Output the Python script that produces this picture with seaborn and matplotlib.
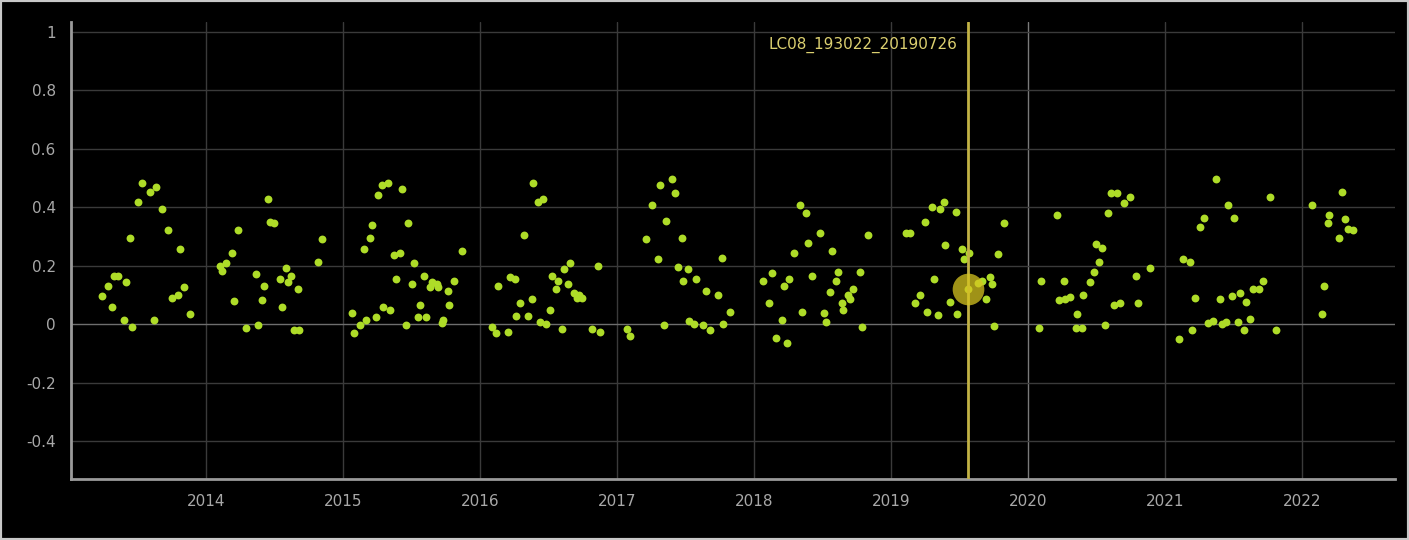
import matplotlib
matplotlib.use("Agg")
import matplotlib.pyplot as plt
import seaborn as sns
import pandas as pd
from matplotlib.patches import Rectangle

# Acquisition dates (decimal year) and index values per season
years_2013 = [2013.241, 2013.285, 2013.312, 2013.331, 2013.355, 2013.399, 2013.416, 2013.443,
              2013.458, 2013.504, 2013.533, 2013.591, 2013.623, 2013.635, 2013.677, 2013.720,
              2013.752, 2013.793, 2013.808, 2013.839, 2013.883]
vals_2013 = [0.097, 0.131, 0.058, 0.165, 0.165, 0.015, 0.145, 0.296,
             -0.011, 0.419, 0.482, 0.453, 0.015, 0.468, 0.393, 0.323,
             0.091, 0.098, 0.256, 0.126, 0.035]

years_2014 = [2014.102, 2014.115, 2014.146, 2014.190, 2014.202, 2014.234, 2014.292, 2014.367,
              2014.380, 2014.409, 2014.423, 2014.450, 2014.467, 2014.499, 2014.540, 2014.555,
              2014.584, 2014.601, 2014.623, 2014.640, 2014.669, 2014.681, 2014.815, 2014.845]
vals_2014 = [0.200, 0.183, 0.208, 0.242, 0.078, 0.323, -0.013, 0.172,
             -0.004, 0.083, 0.131, 0.427, 0.350, 0.345, 0.153, 0.057,
             0.193, 0.144, 0.165, -0.021, 0.119, -0.021, 0.213, 0.290]

years_2015 = [2015.068, 2015.080, 2015.124, 2015.153, 2015.168, 2015.197, 2015.209, 2015.241,
              2015.253, 2015.282, 2015.294, 2015.331, 2015.343, 2015.370, 2015.385, 2015.416,
              2015.428, 2015.458, 2015.472, 2015.501, 2015.516, 2015.545, 2015.562, 2015.589,
              2015.606, 2015.635, 2015.652, 2015.684, 2015.696, 2015.720, 2015.732, 2015.764,
              2015.776, 2015.808, 2015.866]
vals_2015 = [0.037, -0.032, -0.004, 0.256, 0.014, 0.296, 0.338, 0.024,
             0.441, 0.476, 0.057, 0.482, 0.050, 0.235, 0.153, 0.242,
             0.461, -0.004, 0.345, 0.139, 0.208, 0.023, 0.065, 0.165,
             0.023, 0.126, 0.145, 0.139, 0.126, 0.004, 0.014, 0.112,
             0.064, 0.146, 0.249]

years_2016 = [2016.085, 2016.117, 2016.129, 2016.207, 2016.219, 2016.255, 2016.263, 2016.292,
              2016.325, 2016.350, 2016.377, 2016.389, 2016.426, 2016.438, 2016.462, 2016.482,
              2016.511, 2016.526, 2016.553, 2016.572, 2016.596, 2016.613, 2016.642, 2016.657,
              2016.686, 2016.706, 2016.725, 2016.747, 2016.815, 2016.859, 2016.876]
vals_2016 = [-0.009, -0.032, 0.131, -0.026, 0.160, 0.153, 0.028, 0.071,
             0.304, 0.028, 0.085, 0.482, 0.419, 0.008, 0.427, 0.001,
             0.050, 0.165, 0.120, 0.147, -0.018, 0.187, 0.138, 0.208,
             0.105, 0.091, 0.100, 0.091, -0.018, 0.200, -0.027]

years_2017 = [2017.071, 2017.095, 2017.212, 2017.255, 2017.297, 2017.314, 2017.341, 2017.355,
              2017.399, 2017.426, 2017.443, 2017.474, 2017.484, 2017.520, 2017.528, 2017.562,
              2017.577, 2017.630, 2017.647, 2017.679, 2017.737, 2017.764, 2017.776, 2017.825]
vals_2017 = [-0.015, -0.040, 0.290, 0.407, 0.222, 0.476, -0.004, 0.352,
             0.496, 0.448, 0.194, 0.296, 0.146, 0.187, 0.011, 0.000,
             0.153, -0.003, 0.112, -0.021, 0.098, 0.228, 0.002, 0.043]

years_2018 = [2018.068, 2018.109, 2018.129, 2018.158, 2018.202, 2018.217, 2018.241, 2018.258,
              2018.290, 2018.336, 2018.348, 2018.377, 2018.392, 2018.421, 2018.480, 2018.511,
              2018.523, 2018.552, 2018.567, 2018.596, 2018.611, 2018.640, 2018.652, 2018.688,
              2018.701, 2018.725, 2018.772, 2018.786, 2018.830]
vals_2018 = [0.147, 0.071, 0.174, -0.046, 0.015, 0.131, -0.063, 0.153,
             0.242, 0.407, 0.042, 0.379, 0.276, 0.164, 0.311, 0.037,
             0.007, 0.111, 0.249, 0.146, 0.180, 0.071, 0.050, 0.099,
             0.085, 0.119, 0.180, -0.011, 0.304]

years_2019 = [2019.109, 2019.142, 2019.177, 2019.209, 2019.250, 2019.265, 2019.297, 2019.312,
              2019.341, 2019.358, 2019.387, 2019.394, 2019.428, 2019.472, 2019.484, 2019.516,
              2019.533, 2019.564, 2019.569, 2019.637, 2019.664, 2019.693, 2019.723, 2019.737,
              2019.752, 2019.781, 2019.825]
vals_2019 = [0.311, 0.311, 0.071, 0.098, 0.350, 0.042, 0.400, 0.153,
             0.030, 0.393, 0.419, 0.270, 0.076, 0.385, 0.035, 0.256,
             0.222, 0.120, 0.242, 0.142, 0.146, 0.085, 0.161, 0.139,
             -0.006, 0.241, 0.345]

years_2020 = [2020.082, 2020.099, 2020.215, 2020.230, 2020.263, 2020.270, 2020.307, 2020.350,
              2020.361, 2020.392, 2020.404, 2020.453, 2020.482, 2020.496, 2020.521, 2020.538,
              2020.564, 2020.582, 2020.604, 2020.628, 2020.647, 2020.672, 2020.703, 2020.745,
              2020.786, 2020.801, 2020.891]
vals_2020 = [-0.012, 0.146, 0.372, 0.083, 0.146, 0.087, 0.092, -0.013,
             0.035, -0.013, 0.098, 0.145, 0.180, 0.274, 0.213, 0.259,
             -0.004, 0.379, 0.448, 0.065, 0.448, 0.071, 0.413, 0.434,
             0.165, 0.071, 0.193]

years_2021 = [2021.106, 2021.134, 2021.182, 2021.195, 2021.223, 2021.259, 2021.285, 2021.316,
              2021.353, 2021.370, 2021.401, 2021.414, 2021.445, 2021.458, 2021.487, 2021.502,
              2021.531, 2021.547, 2021.577, 2021.589, 2021.620, 2021.645, 2021.686, 2021.720,
              2021.766, 2021.810]
vals_2021 = [-0.052, 0.222, 0.213, -0.021, 0.091, 0.331, 0.364, 0.004,
             0.010, 0.496, 0.085, 0.001, 0.008, 0.408, 0.096, 0.364,
             0.008, 0.105, -0.021, 0.076, 0.016, 0.119, 0.119, 0.146,
             0.434, -0.021]

years_2022 = [2022.071, 2022.144, 2022.159, 2022.188, 2022.200, 2022.272, 2022.290, 2022.316,
              2022.338, 2022.375]
vals_2022 = [0.407, 0.035, 0.131, 0.345, 0.373, 0.296, 0.453, 0.359,
             0.324, 0.322]

selected_scene = "LC08_193022_20190726"
selected_year = 2019.564
selected_value = 0.120

x_ticks = [2014, 2015, 2016, 2017, 2018, 2019, 2020, 2021, 2022]
y_ticks = [-0.4, -0.2, 0, 0.2, 0.4, 0.6, 0.8, 1]
y_tick_labels = ["-0.4", "-0.2", "0", "0.2", "0.4", "0.6", "0.8", "1"]

all_years = (years_2013 + years_2014 + years_2015 + years_2016 + years_2017 +
             years_2018 + years_2019 + years_2020 + years_2021 + years_2022)
all_vals = (vals_2013 + vals_2014 + vals_2015 + vals_2016 + vals_2017 +
            vals_2018 + vals_2019 + vals_2020 + vals_2021 + vals_2022)
df = pd.DataFrame({"year": all_years, "value": all_vals})

sns.set_style("dark")
plt.rcParams["font.family"] = ["DejaVu Sans"]

fig = plt.figure(figsize=(14.09, 5.40), dpi=100, facecolor="black")
ax = fig.add_axes([71 / 1409, 1 - 479 / 540, (1395 - 71) / 1409, (479 - 22) / 540])
ax.set_facecolor("black")

grid_col = "#3a3a3a"
for t in x_ticks:
    ax.axvline(t, color=("#7a7a7a" if t == 2020 else grid_col), lw=1, zorder=0)
for t in y_ticks:
    ax.axhline(t, color=("#6e6e6e" if t == 0 else grid_col), lw=1, zorder=0)

sns.scatterplot(data=df, x="year", y="value", ax=ax, color="#aedc28",
                s=32, linewidth=0, zorder=3, legend=False)

# highlighted acquisition
ax.axvline(selected_year, color="#c2b244", lw=2, zorder=4)
ax.scatter([selected_year], [selected_value], s=520, color="#d6c420",
           alpha=0.75, linewidth=0, zorder=5)
ax.text(selected_year - 0.08, 0.955, selected_scene, color="#dcd070",
        fontsize=11, ha="right", va="center", zorder=6)

ax.set_xlim(2013.015, 2022.68)
ax.set_ylim(-0.53, 1.034)
ax.set_xticks(x_ticks)
ax.set_xticklabels([str(t) for t in x_ticks])
ax.set_yticks(y_ticks)
ax.set_yticklabels(y_tick_labels)
ax.tick_params(axis="both", length=0, colors="#a8a8a8", labelsize=11)
ax.tick_params(axis="x", pad=11)
ax.tick_params(axis="y", pad=11)
ax.grid(False)
ax.set_xlabel("")
ax.set_ylabel("")

for side in ["top", "right"]:
    ax.spines[side].set_visible(False)
for side in ["left", "bottom"]:
    ax.spines[side].set_visible(True)
    ax.spines[side].set_color("#9a9a9a")
    ax.spines[side].set_linewidth(2)

# thin light frame around the whole panel
fig.patches.append(Rectangle((0, 0), 1, 1, transform=fig.transFigure, fill=False,
                             edgecolor="#c8c8c8", linewidth=3, zorder=10))

fig.savefig("out.png", dpi=100, facecolor="black")
